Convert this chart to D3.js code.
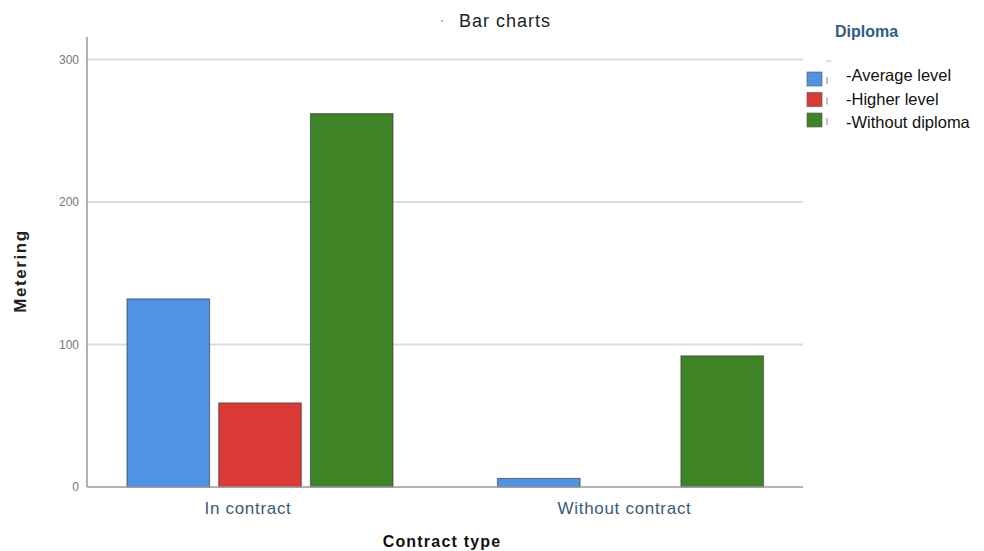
<!DOCTYPE html>
<html>
<head>
<meta charset="utf-8">
<script src="https://cdn.jsdelivr.net/npm/d3@7/dist/d3.min.js"></script>
<style>
  html, body { margin: 0; padding: 0; background: #fff; }
  svg { display: block; font-family: "Liberation Sans", Arial, sans-serif; }
</style>
</head>
<body>
<svg id="chart" width="984" height="551"></svg>
<script>
// Counts by contract type and diploma level
const categories = ["In contract", "Without contract"];
const series = ["-Average level", "-Higher level", "-Without diploma"];
const averageLevel = [132, 6];
const higherLevel = [59, 0];
const withoutDiploma = [262, 92];
const yTicks = [0, 100, 200, 300];
const colors = ["#5093e6", "#d93a35", "#3f8327"];

const values = [averageLevel, higherLevel, withoutDiploma];

const svg = d3.select("#chart");

const plot = { left: 87, right: 803, top: 37, bottom: 487 };

const y = d3.scaleLinear().domain([0, 300]).range([487, 59.5]);

const x0 = d3.scaleBand().domain(categories).range([74.75, 815.75]);
const x1 = d3.scaleBand().domain(series).range([52.25, 318.25]).paddingInner(0.1);

// gridlines
svg.append("g")
  .selectAll("line")
  .data(yTicks.filter(d => d > 0))
  .join("line")
  .attr("x1", plot.left).attr("x2", plot.right)
  .attr("y1", d => y(d)).attr("y2", d => y(d))
  .attr("stroke", "#dcdcdc").attr("stroke-width", 2);

// bars
const groups = svg.append("g")
  .selectAll("g")
  .data(categories)
  .join("g")
  .attr("transform", d => `translate(${x0(d)},0)`);

groups.selectAll("rect")
  .data((c, ci) => series.map((s, si) => ({ s, si, v: values[si][ci] })).filter(d => d.v > 0))
  .join("rect")
  .attr("x", d => x1(d.s))
  .attr("width", x1.bandwidth())
  .attr("y", d => y(d.v))
  .attr("height", d => y(0) - y(d.v))
  .attr("fill", d => colors[d.si])
  .attr("stroke", "#3a3a3a")
  .attr("stroke-opacity", 0.6)
  .attr("stroke-width", 1.2);

// y axis
const yAxis = svg.append("g")
  .attr("transform", `translate(${plot.left},0)`)
  .call(d3.axisLeft(y).tickValues(yTicks).tickSize(0).tickPadding(8));
yAxis.select(".domain").remove();
yAxis.selectAll("text").attr("fill", "#777").attr("font-size", 12);
svg.append("line")
  .attr("x1", plot.left).attr("x2", plot.left)
  .attr("y1", plot.top).attr("y2", plot.bottom)
  .attr("stroke", "#999").attr("stroke-width", 1.5);

// x axis
const xAxis = svg.append("g")
  .attr("transform", `translate(0,${plot.bottom})`)
  .call(d3.axisBottom(x0).tickSize(0).tickPadding(15));
xAxis.select(".domain").remove();
xAxis.selectAll("text")
  .attr("fill", "#3b5a7a")
  .attr("font-size", 17)
  .attr("letter-spacing", 0.7)
  .attr("dx", (d, i) => i === 0 ? -12 : -6);
svg.append("line")
  .attr("x1", plot.left).attr("x2", plot.right)
  .attr("y1", plot.bottom).attr("y2", plot.bottom)
  .attr("stroke", "#999").attr("stroke-width", 1.5);

// axis titles
svg.append("text")
  .attr("x", 442).attr("y", 547)
  .attr("text-anchor", "middle")
  .attr("font-size", 16).attr("font-weight", "bold").attr("fill", "#111")
  .attr("letter-spacing", 1.2)
  .text("Contract type");

svg.append("text")
  .attr("transform", "translate(26,271) rotate(-90)")
  .attr("text-anchor", "middle")
  .attr("font-size", 17).attr("font-weight", "bold").attr("fill", "#222")
  .attr("letter-spacing", 1.6)
  .text("Metering");

// title
svg.append("circle").attr("cx", 442).attr("cy", 21).attr("r", 1.2).attr("fill", "#bbb");
svg.append("text")
  .attr("x", 459).attr("y", 27)
  .attr("font-size", 18).attr("fill", "#222")
  .attr("letter-spacing", 1)
  .text("Bar charts");

// legend
svg.append("text")
  .attr("x", 835).attr("y", 37)
  .attr("font-size", 16).attr("font-weight", "bold").attr("fill", "#2f5b86")
  .text("Diploma");
svg.append("line")
  .attr("x1", 826).attr("x2", 831).attr("y1", 61).attr("y2", 61)
  .attr("stroke", "#bbb").attr("stroke-width", 1);

const legend = svg.append("g")
  .selectAll("g")
  .data(series)
  .join("g");
legend.append("rect")
  .attr("x", 807).attr("y", (d, i) => 72 + i * 20.5)
  .attr("width", 15).attr("height", 14)
  .attr("fill", (d, i) => colors[i])
  .attr("stroke", "#555").attr("stroke-opacity", 0.6);
legend.append("line")
  .attr("x1", 827).attr("x2", 827)
  .attr("y1", (d, i) => 77 + i * 20.5).attr("y2", (d, i) => 84 + i * 20.5)
  .attr("stroke", "#888").attr("stroke-width", 1);
legend.append("text")
  .attr("x", 846).attr("y", (d, i) => 81 + i * 23.5)
  .attr("font-size", 16.5).attr("fill", "#111")
  .text(d => d);
</script>
</body>
</html>
